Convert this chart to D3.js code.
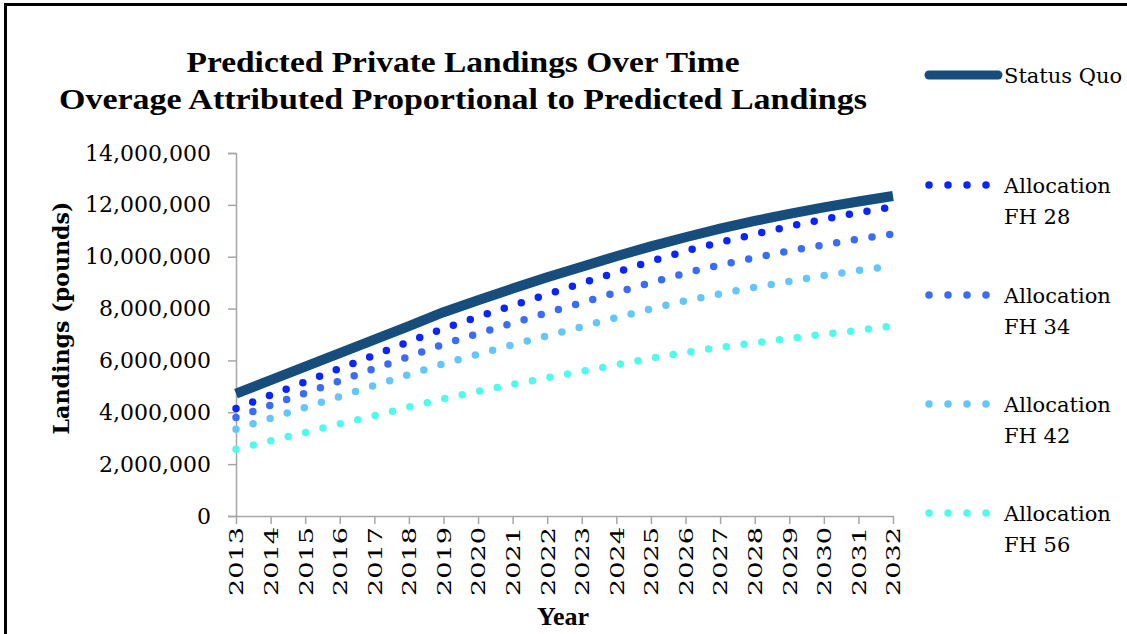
<!DOCTYPE html>
<html>
<head>
<meta charset="utf-8">
<script src="https://cdn.jsdelivr.net/npm/d3@7"></script>
<style>
  html, body { margin: 0; padding: 0; background: #fff; }
  svg { display: block; }
</style>
</head>
<body>
<svg id="chart" width="1127" height="634"></svg>
<script>
// Years on the x axis
const years = [2013, 2014, 2015, 2016, 2017, 2018, 2019, 2020, 2021, 2022,
               2023, 2024, 2025, 2026, 2027, 2028, 2029, 2030, 2031, 2032];

// Predicted private landings (pounds)
const statusQuo = [4720000, 5240000, 5760000, 6280000, 6800000, 7320000, 7860000, 8320000, 8770000, 9210000,
                   9610000, 10020000, 10400000, 10750000, 11080000, 11380000, 11650000, 11900000, 12130000, 12340000];
const fh28 = [4150000, 4660000, 5170000, 5690000, 6200000, 6720000, 7230000, 7680000, 8120000, 8550000,
              8980000, 9400000, 9820000, 10220000, 10550000, 10870000, 11170000, 11450000, 11700000, 11920000];
const fh34 = [3800000, 4270000, 4740000, 5210000, 5680000, 6150000, 6620000, 7040000, 7440000, 7840000,
              8230000, 8620000, 9000000, 9370000, 9680000, 9960000, 10220000, 10460000, 10680000, 10880000];
const fh42 = [3350000, 3770000, 4190000, 4610000, 5030000, 5450000, 5870000, 6240000, 6600000, 6950000,
              7300000, 7650000, 7990000, 8300000, 8570000, 8820000, 9050000, 9270000, 9470000, 9650000];
const fh56 = [2570000, 2900000, 3220000, 3550000, 3870000, 4200000, 4520000, 4810000, 5070000, 5330000,
              5580000, 5830000, 6080000, 6310000, 6500000, 6680000, 6850000, 7010000, 7160000, 7330000];

const yTicks = [0, 2000000, 4000000, 6000000, 8000000, 10000000, 12000000, 14000000];
const titleLines = ["Predicted Private Landings Over Time",
                    "Overage Attributed Proportional to Predicted Landings"];

const series = [
  { name: "Status Quo", values: statusQuo, color: "#174d7c", dotted: false },
  { name: ["Allocation", "FH 28"], values: fh28, color: "#0a24ff", dotted: true },
  { name: ["Allocation", "FH 34"], values: fh34, color: "#3a6cf8", dotted: true },
  { name: ["Allocation", "FH 42"], values: fh42, color: "#64c6ff", dotted: true },
  { name: ["Allocation", "FH 56"], values: fh56, color: "#50fbee", dotted: true }
];

const svg = d3.select("#chart");
const serif = "'DejaVu Serif', serif";
const titleFont = "'Liberation Serif', serif";

// Outer frame
svg.append("rect")
  .attr("x", 5.5).attr("y", 4.5)
  .attr("width", 1300).attr("height", 800)
  .attr("fill", "none").attr("stroke", "#000").attr("stroke-width", 3);

const plot = { left: 236, right: 893, top: 153, bottom: 516 };

const x = d3.scalePoint().domain(years).range([plot.left, plot.right]);
const y = d3.scaleLinear().domain([0, 14000000]).range([plot.bottom, plot.top]);

// Title
svg.append("g").selectAll("text").data(titleLines).join("text")
  .attr("x", 463).attr("y", (d, i) => 72 + i * 37)
  .attr("text-anchor", "middle")
  .attr("font-family", titleFont).attr("font-weight", "bold").attr("font-size", 29)
  .attr("textLength", (d, i) => i === 0 ? 553 : 808)
  .attr("lengthAdjust", "spacingAndGlyphs")
  .attr("fill", "#000")
  .text(d => d);

// Y axis
const yAxis = svg.append("g")
  .attr("transform", `translate(${plot.left},0)`)
  .call(d3.axisLeft(y).tickValues(yTicks).tickSize(8).tickPadding(17)
        .tickFormat(d3.format(",")));
yAxis.select(".domain").attr("stroke", "#a6a6a6").attr("stroke-width", 1.5);
yAxis.selectAll(".tick line").attr("stroke", "#a6a6a6").attr("stroke-width", 1.5);
yAxis.selectAll(".tick text")
  .attr("font-family", serif).attr("font-size", 22).attr("fill", "#000");

// X axis
const xAxis = svg.append("g")
  .attr("transform", `translate(0,${plot.bottom})`)
  .call(d3.axisBottom(x).tickSize(8).tickSizeOuter(0));
xAxis.select(".domain").attr("stroke", "#a6a6a6").attr("stroke-width", 1.5);
xAxis.selectAll(".tick line").attr("stroke", "#a6a6a6").attr("stroke-width", 1.5);
xAxis.selectAll(".tick text")
  .attr("font-family", serif).attr("font-size", 19).attr("fill", "#000")
  .attr("transform", "rotate(-90)")
  .attr("x", -11).attr("y", 0).attr("dy", "0.36em")
  .attr("text-anchor", "end")
  .attr("textLength", 69).attr("lengthAdjust", "spacingAndGlyphs");

// Axis titles
svg.append("text")
  .attr("transform", "translate(69,318) rotate(-90)")
  .attr("text-anchor", "middle")
  .attr("font-family", serif).attr("font-weight", "bold").attr("font-size", 22)
  .attr("textLength", 233).attr("lengthAdjust", "spacingAndGlyphs")
  .text("Landings (pounds)");

svg.append("text")
  .attr("x", 563).attr("y", 625)
  .attr("text-anchor", "middle")
  .attr("font-family", titleFont).attr("font-weight", "bold").attr("font-size", 26)
  .text("Year");

// Series lines
const line = d3.line().x((d, i) => x(years[i])).y(d => y(d));

svg.append("g").selectAll("path").data(series.slice().reverse()).join("path")
  .attr("d", d => line(d.values))
  .attr("fill", "none")
  .attr("stroke", d => d.color)
  .attr("stroke-width", d => d.dotted ? 7.5 : 10)
  .attr("stroke-linecap", d => d.dotted ? "round" : "butt")
  .attr("stroke-linejoin", "round")
  .attr("stroke-dasharray", d => d.dotted ? "0 17.9" : null);

// Legend
const legendY = [75, 185, 295, 404, 513];
const legend = svg.append("g").selectAll("g").data(series).join("g")
  .attr("transform", (d, i) => `translate(0,${legendY[i]})`);

legend.append("line")
  .attr("x1", 929).attr("x2", d => d.dotted ? 987 : 998)
  .attr("y1", 0).attr("y2", 0)
  .attr("stroke", d => d.color)
  .attr("stroke-width", d => d.dotted ? 7.5 : 9)
  .attr("stroke-linecap", "round")
  .attr("stroke-dasharray", d => d.dotted ? "0 19" : null);

legend.each(function(d) {
  const g = d3.select(this);
  const lines = Array.isArray(d.name) ? d.name : [d.name];
  g.selectAll("text").data(lines).join("text")
    .attr("x", 1004).attr("y", (t, i) => i * 31)
    .attr("dy", "0.36em")
    .attr("font-family", serif).attr("font-size", 21).attr("fill", "#000")
    .text(t => t);
});
</script>
</body>
</html>
